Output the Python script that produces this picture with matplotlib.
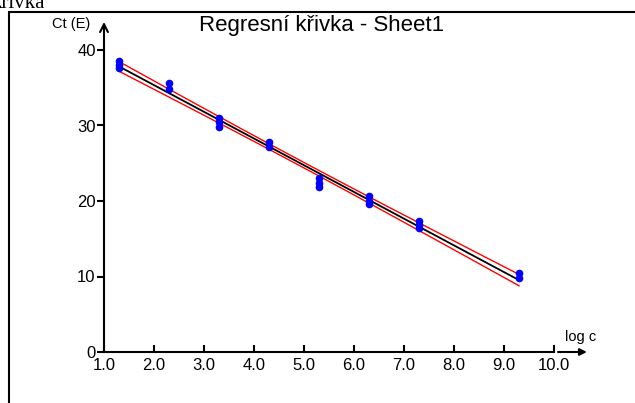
import numpy as np
import matplotlib
matplotlib.use('Agg')
import matplotlib.pyplot as plt
from matplotlib.patches import Rectangle

# measured Ct values per log c group
log_c = [1.3, 1.3, 1.3, 2.3, 2.3, 3.3, 3.3, 3.3, 4.3, 4.3,
         5.3, 5.3, 5.3, 6.3, 6.3, 6.3, 7.3, 7.3, 7.3, 9.3, 9.3]
ct = [38.5, 38.0, 37.6, 35.6, 34.8, 31.0, 30.4, 29.8, 27.8, 27.2,
      23.0, 22.4, 21.8, 20.6, 20.0, 19.6, 17.4, 16.8, 16.4, 10.5, 9.8]
x_ticks = [1.0, 2.0, 3.0, 4.0, 5.0, 6.0, 7.0, 8.0, 9.0, 10.0]
y_ticks = [0, 10, 20, 30, 40]
t_crit = 2.093  # 95 %, 19 df

plt.rcParams['font.family'] = ['Liberation Sans', 'DejaVu Sans']

x = np.array(log_c)
y = np.array(ct)
n = len(x)
slope, icpt = np.polyfit(x, y, 1)
resid = y - (slope * x + icpt)
s = np.sqrt(np.sum(resid ** 2) / (n - 2))
sxx = np.sum((x - x.mean()) ** 2)
xl = np.linspace(x.min(), x.max(), 50)
yl = slope * xl + icpt
band = t_crit * s * np.sqrt(1 / n + (xl - x.mean()) ** 2 / sxx)

fig = plt.figure(figsize=(6.35, 4.03), dpi=100)
W, H = 635, 403

# outer frame (cut by image edges)
fig.patches.append(Rectangle((8.5 / W, -0.1), 1.2, 1 - 11.5 / H + 0.1,
                             transform=fig.transFigure, fill=False,
                             edgecolor='black', linewidth=1.5))
fig.text(-8 / W, 1 - 8 / H, 'křivka', family='Liberation Serif',
         fontsize=15, ha='left', va='baseline')

ax = fig.add_axes([104 / W, 1 - 352 / H, 450 / W, 302 / H])
ax.set_xlim(1, 10)
ax.set_ylim(0, 40)
for sp in ['top', 'right']:
    ax.spines[sp].set_visible(False)
ax.spines['left'].set_linewidth(1.5)
ax.spines['bottom'].set_linewidth(1.5)

ax.set_xticks(x_ticks)
ax.set_xticklabels(['%.1f' % v for v in x_ticks])
ax.set_yticks(y_ticks)
ax.set_yticklabels([str(v) for v in y_ticks])
ax.tick_params(axis='x', direction='in', length=5, width=1.5, labelsize=12, pad=4)
ax.tick_params(axis='y', direction='out', length=5, width=1.5, labelsize=12, pad=1)

# axis arrows
ax.annotate('', xy=(0, 1.093), xytext=(0, 1.0), xycoords='axes fraction',
            arrowprops=dict(arrowstyle='->', lw=1.5, color='black',
                            shrinkA=0, shrinkB=0, mutation_scale=14))
ax.annotate('', xy=(1.073, 0), xytext=(1.009, 0), xycoords='axes fraction',
            arrowprops=dict(arrowstyle='-|>', lw=1.5, color='black',
                            shrinkA=0, shrinkB=0, mutation_scale=10))
ax.text(-0.031, 1.086, 'Ct (E)', transform=ax.transAxes, fontsize=10.5,
        ha='right', va='center')
ax.text(1.06, 0.05, 'log c', transform=ax.transAxes, fontsize=10.5,
        ha='center', va='center')

fig.text(322 / W, 1 - 25 / H, 'Regresní křivka - Sheet1', fontsize=16,
         ha='center', va='center')

ax.plot(xl, yl + band, color='red', lw=1.0, clip_on=False)
ax.plot(xl, yl - band, color='red', lw=1.0, clip_on=False)
ax.plot(xl, yl, color='black', lw=1.3, clip_on=False)
ax.plot(x, y, 'o', color='blue', markersize=4.5, clip_on=False, zorder=3)

fig.savefig('out.png', dpi=100)
